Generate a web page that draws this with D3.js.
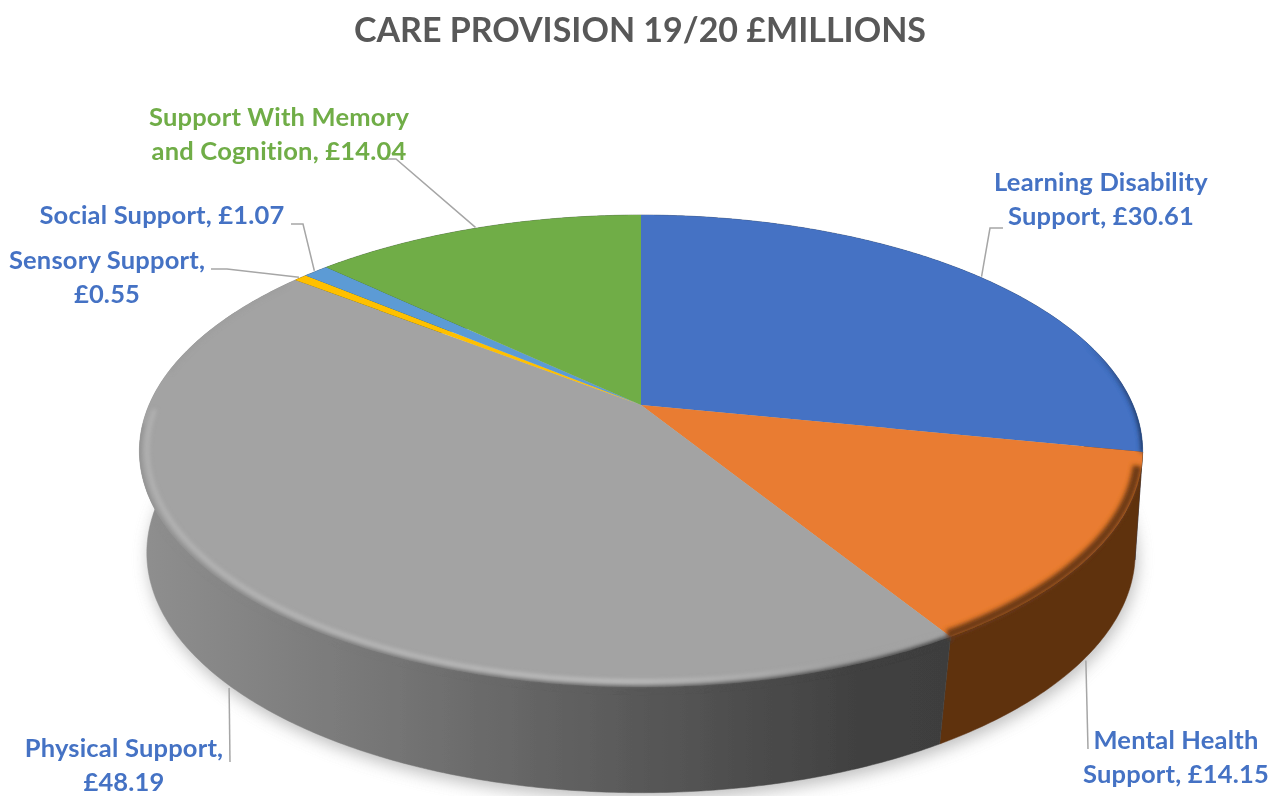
<!DOCTYPE html>
<html>
<head>
<meta charset="utf-8">
<title>Care provision</title>
<script src="https://cdn.jsdelivr.net/npm/d3@7"></script>
<style>
  html, body { margin: 0; padding: 0; background: #fff; overflow: hidden; }
  text { font-family: Lato, "Open Sans", sans-serif; font-weight: 700; }
</style>
</head>
<body>
<svg id="chart" width="1282" height="796"></svg>
<script>
var categories = [
  "Learning Disability Support",
  "Mental Health Support",
  "Physical Support",
  "Sensory Support",
  "Social Support",
  "Support With Memory and Cognition"
];
var values = [30.61, 14.15, 48.19, 0.55, 1.07, 14.04];
var valueLabels = ["£30.61", "£14.15", "£48.19", "£0.55", "£1.07", "£14.04"];
var topColours = ["#4472c4", "#e97c30", "#a3a3a3", "#ffc000", "#5b9bd5", "#70ad47"];
var sideColours = ["#1f3864", "#5f3210", "url(#graySide)", "#7a5c00", "#2c4f70", "#38562a"];
var title = "CARE PROVISION 19/20 £MILLIONS";

// label text lines and leader bends, same order as categories
var labelLines = [
  ["Learning Disability", "Support, £30.61"],
  ["Mental Health", "Support, £14.15"],
  ["Physical Support,", "£48.19"],
  ["Sensory Support,", "£0.55"],
  ["Social Support, £1.07"],
  ["Support With Memory", "and Cognition, £14.04"]
];
var labelPos = [[1101, 191], [1176, 749], [124, 757], [107, 269], [162, 224], [279, 126]];
var labelColours = ["#4472c4", "#4472c4", "#4472c4", "#4472c4", "#4472c4", "#70ad47"];
var leaderBends = [
  [[990, 228], [1003, 228]],
  [[1088, 749]],
  [[230, 762]],
  [[227, 269], [211, 269]],
  [[303, 224], [291, 224]],
  [[396, 159], [385, 159]]
];

var svg = d3.select("#chart");
var defs = svg.append("defs");

function blur(id, dev) {
  defs.append("filter").attr("id", id)
    .attr("filterUnits", "userSpaceOnUse")
    .attr("x", 0).attr("y", 0).attr("width", 1282).attr("height", 900)
    .append("feGaussianBlur").attr("stdDeviation", dev);
}
blur("soft", 0.45);
blur("rimBlur", 2.2);
blur("shadowBlur", 8);

function gradient(id, x1, x2, stops) {
  var g = defs.append("linearGradient").attr("id", id)
    .attr("gradientUnits", "userSpaceOnUse")
    .attr("x1", x1).attr("x2", x2).attr("y1", 0).attr("y2", 0);
  stops.forEach(function (s) {
    g.append("stop").attr("offset", s[0]).attr("stop-color", s[1]).attr("stop-opacity", s[2] === undefined ? 1 : s[2]);
  });
}
gradient("graySide", 140, 946, [[0, "#8f8f8f"], [0.3, "#767676"], [0.6, "#5a5a5a"], [0.9, "#404040"], [1, "#3e3e3e"]]);
gradient("grayRim", 140, 946, [[0, "#b6b6b6"], [0.25, "#bcbcbc"], [0.6, "#c6c6c6"], [0.78, "#b0b0b0"], [0.88, "#a3a3a3", 0.4], [1, "#a3a3a3", 0]]);
gradient("blueRim", 1085, 1143, [[0, "#1f3864", 0], [1, "#1f3864", 1]]);

// perspective disc: top face and bottom face of the slab
var topFace = { cx: 641, cy: 405, a: 492, b: 227, k: 0.195 };
var bottomFace = { cx: 641, cy: 512, a: 487, b: 233, k: 0.17 };

function project(face, angle, r) {
  var u = Math.sin(angle) * r;
  var v = Math.cos(angle) * r;
  var d = 1 + face.k * v;
  return [face.cx + face.a * u / d, face.cy - face.b * v / d];
}
function arcPoints(face, a0, a1, r) {
  var n = Math.max(2, Math.ceil(Math.abs(a1 - a0) / 0.01));
  return d3.range(n + 1).map(function (i) {
    return project(face, a0 + (a1 - a0) * i / n, r);
  });
}
var line = d3.line();

var slices = d3.pie().sort(null).value(function (d) { return d; })(values);
var fullTurn = arcPoints(bottomFace, 0, Math.PI * 2, 1);

var root = svg.append("g").attr("filter", "url(#soft)");

// soft shadow under the slab
root.append("path")
  .attr("d", line(fullTurn) + "Z")
  .attr("transform", "translate(2,6)")
  .attr("fill", "#8a8a8a")
  .attr("opacity", 0.55)
  .attr("filter", "url(#shadowBlur)");

function sidePath(d) {
  var upper = arcPoints(topFace, d.startAngle, d.endAngle, 1);
  var lower = arcPoints(bottomFace, d.endAngle, d.startAngle, 1);
  return line(upper.concat(lower)) + "Z";
}
function topPath(d) {
  var pts = [[topFace.cx, topFace.cy]].concat(arcPoints(topFace, d.startAngle, d.endAngle, 1));
  return line(pts) + "Z";
}

// clip for the rim shading, whole visible shape
var clip = defs.append("clipPath").attr("id", "slab");
clip.selectAll("path.s").data(slices).enter().append("path").attr("d", sidePath);
clip.selectAll("path.t").data(slices).enter().append("path").attr("d", topPath);

root.append("g").selectAll("path")
  .data(slices)
  .enter()
  .append("path")
  .attr("d", sidePath)
  .attr("fill", function (d, i) { return sideColours[i]; })
  .attr("stroke", function (d, i) { return sideColours[i]; })
  .attr("stroke-width", 0.5);

root.append("g").selectAll("path")
  .data(slices)
  .enter()
  .append("path")
  .attr("d", topPath)
  .attr("fill", function (d, i) { return topColours[i]; });

// bevel along the front rim
var leftEdge = Math.PI * 1.5;
var rims = root.append("g").attr("clip-path", "url(#slab)").append("g").attr("filter", "url(#rimBlur)");

function rimBand(face, a0, a1, r, colour, width, opacity) {
  rims.append("path")
    .attr("d", line(arcPoints(face, a0, a1, r)))
    .attr("fill", "none")
    .attr("stroke", colour)
    .attr("stroke-width", width)
    .attr("opacity", opacity === undefined ? 1 : opacity);
}
// gray slice: side colour creeps over the edge, highlight just inside it
rimBand(topFace, slices[2].startAngle, leftEdge - 0.08, 1.002, "url(#graySide)", 5);
rimBand(topFace, slices[2].startAngle, leftEdge - 0.02, 0.985, "url(#grayRim)", 3.5);
rimBand(topFace, leftEdge + 0.15, slices[2].endAngle - 0.03, 0.997, "#999999", 3, 0.6);
// orange and blue slices: dark edge
rimBand(topFace, slices[1].startAngle + 0.06, slices[1].endAngle, 0.992, "#6d3a12", 9);
rimBand(topFace, slices[0].startAngle + 1.1, slices[0].endAngle, 1.003, "url(#blueRim)", 7);

// leader lines start on the rim at the middle of the slice; front slices use the lower rim
var frontSlice = [false, true, true, false, false, false];
root.append("g").selectAll("path")
  .data(slices)
  .enter()
  .append("path")
  .attr("d", function (d, i) {
    var mid = (d.startAngle + d.endAngle) / 2;
    var start = project(frontSlice[i] ? bottomFace : topFace, mid, 1.005);
    return line([start].concat(leaderBends[i]));
  })
  .attr("fill", "none")
  .attr("stroke", "#a6a6a6")
  .attr("stroke-width", 1.5);

// labels
var labels = root.append("g").selectAll("text")
  .data(labelLines)
  .enter()
  .append("text")
  .attr("x", function (d, i) { return labelPos[i][0]; })
  .attr("y", function (d, i) { return labelPos[i][1]; })
  .attr("text-anchor", "middle")
  .attr("fill", function (d, i) { return labelColours[i]; })
  .attr("font-size", 25.5)
  .attr("letter-spacing", 0.2);
labels.selectAll("tspan")
  .data(function (d, i) {
    return d.map(function (t) { return { text: t, x: labelPos[i][0] }; });
  })
  .enter()
  .append("tspan")
  .attr("x", function (d) { return d.x; })
  .attr("dy", function (d, i) { return i === 0 ? 0 : 33.5; })
  .text(function (d) { return d.text; });

root.append("text")
  .attr("x", 640)
  .attr("y", 42)
  .attr("text-anchor", "middle")
  .attr("fill", "#595959")
  .attr("font-size", 34)
  .text(title);
</script>
</body>
</html>
